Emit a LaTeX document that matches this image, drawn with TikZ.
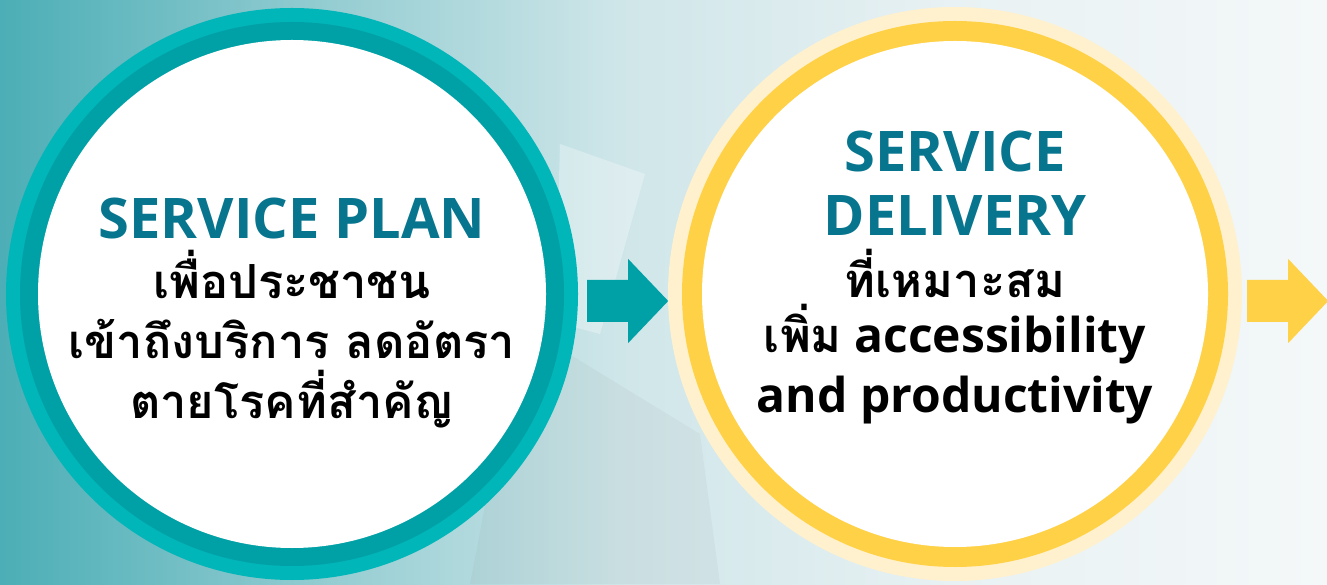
\documentclass[tikz,border=0pt]{standalone}
\usepackage{fontspec}
\setmainfont{Open Sans}
\newfontfamily\thaifont[Script=Thai]{Loma}
\usetikzlibrary{positioning,calc,shadows}
\definecolor{tealout}{HTML}{00B6B9}
\definecolor{tealring}{HTML}{00A1A6}
\definecolor{tealtitle}{HTML}{08758F}
\definecolor{goldout}{HTML}{FFF1CE}
\definecolor{goldring}{HTML}{FFD147}
\definecolor{bgA}{HTML}{4CAEB6}
\definecolor{bgB}{HTML}{92CCD1}
\definecolor{bgC}{HTML}{CFE6E9}
\definecolor{bgD}{HTML}{E8F1F3}
\definecolor{bgE}{HTML}{F4F8F9}
\newcommand\ttl[1]{{\color{tealtitle}\fontsize{56}{60}\selectfont #1}}
\newcommand\thai[1]{{\thaifont\fontsize{47}{60}\selectfont #1}}

\begin{document}
\begin{tikzpicture}[x=1pt,y=1pt]
\tikzset{ring/.style={circle,inner sep=0pt,minimum size=#1}}
\tikzset{body/.style={align=center,inner sep=0pt,font=\bfseries\fontsize{48}{60}\selectfont}}
\tikzset{flow/.pic={\fill[pic actions] (0,21) -- (41,21) -- (41,42) -- (81,0) -- (41,-42) -- (41,-21) -- (0,-21) -- cycle;}}
\tikzset{shade box/.style={drop shadow={opacity=0.3,shadow xshift=3pt,shadow yshift=-3pt}}}
\useasboundingbox (0,0) rectangle (1327,584);
\shade[left color=bgA,right color=bgB] (0,0) rectangle (320,584);
\shade[left color=bgB,right color=bgC] (319,0) rectangle (620,584);
\shade[left color=bgC,right color=bgD] (619,0) rectangle (950,584);
\shade[left color=bgD,right color=bgE] (949,0) rectangle (1327,584);
\fill[white,opacity=0.3] (560,440) -- (645,410) -- (600,250) -- (555,262) -- cycle;
\fill[gray,opacity=0.07] (520,260) -- (700,150) -- (720,0) -- (470,0) -- cycle;

\node[ring=572pt,fill=tealout] (planout) at (292,290) {};
\node[ring=544pt,fill=tealring] (planmid) at (planout) {};
\node[ring=508pt,fill=white] (plan) at (planout) {};

\node[ring=574pt,fill=goldout] (delivout) at (955,290) {};
\node[ring=546pt,fill=goldring] (delivmid) at (delivout) {};
\node[ring=506pt,fill=white] (deliv) at (delivout) {};

\node[body] (plantext) at ([yshift=-19pt]plan.center)
  {\ttl{SERVICE PLAN}\\\thai{เพื่อประชาชน}\\\thai{เข้าถึงบริการ ลดอัตรา}\\\thai{ตายโรคที่สำคัญ}};
\node[body] (delivtext) at ([yshift=17pt]deliv.center)
  {\ttl{SERVICE}\\[4pt]\ttl{DELIVERY}\\[2pt]\thai{ที่เหมาะสม}\\[-5pt]\thai{เพิ่ม} accessibility\\and productivity};

\coordinate (arrA) at ([xshift=9pt,yshift=-7pt]planout.east);
\coordinate (arrB) at ([xshift=5pt,yshift=-7pt]delivout.east);
\pic[fill=tealring,shade box] at (arrA) {flow};
\pic[fill=goldring,shade box] at (arrB) {flow};
\end{tikzpicture}
\end{document}
